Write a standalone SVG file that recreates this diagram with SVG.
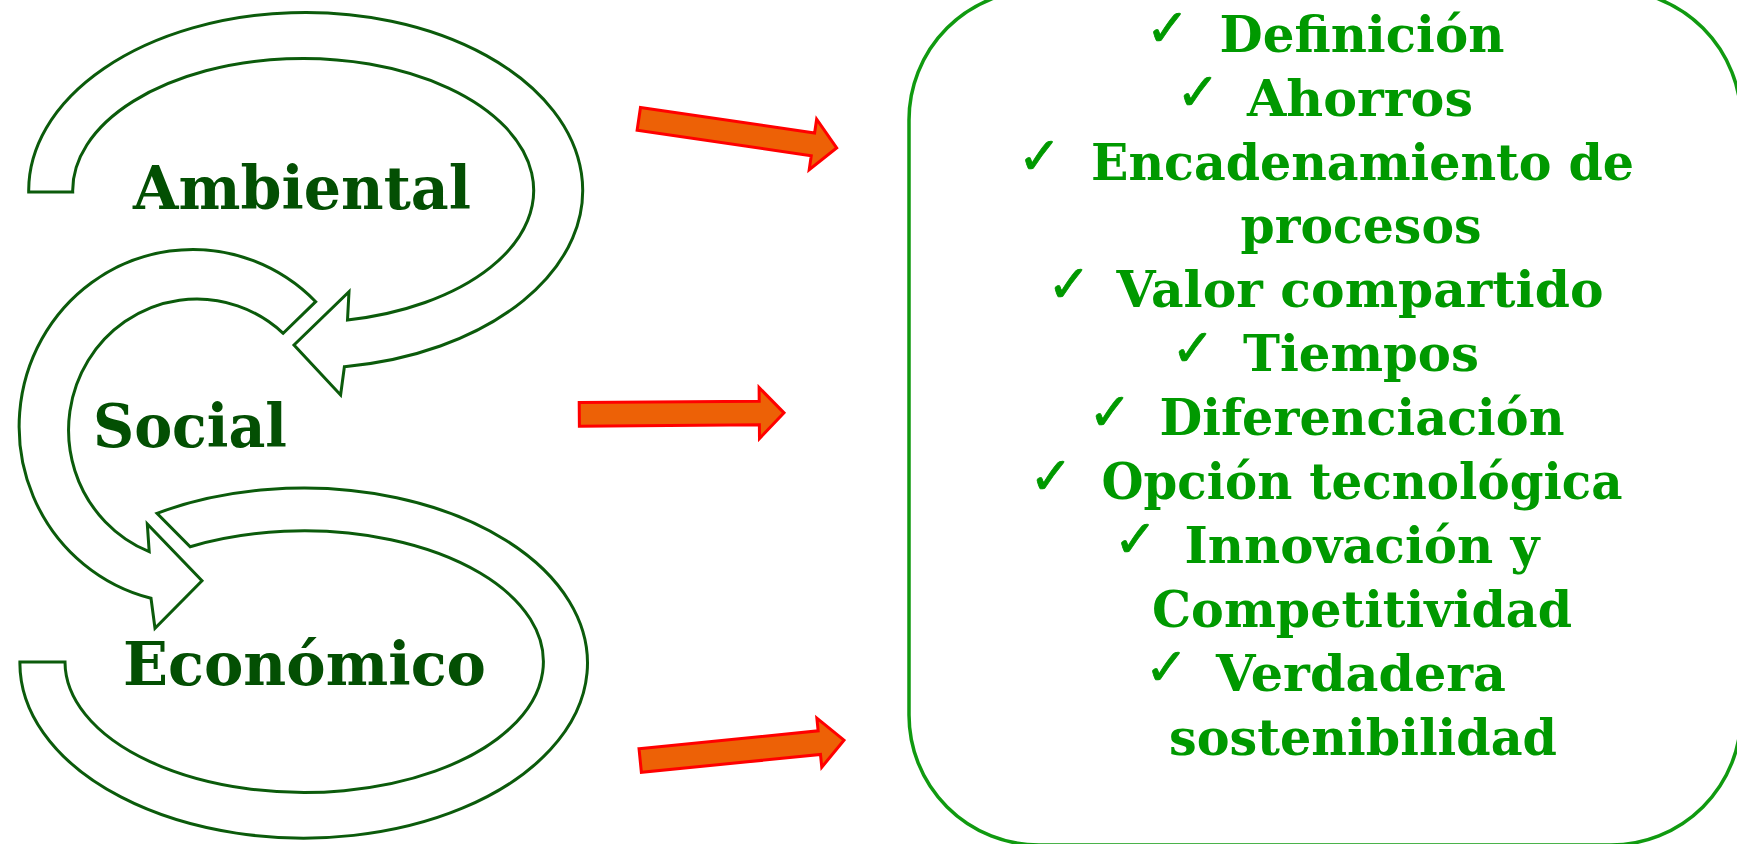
<svg xmlns="http://www.w3.org/2000/svg" width="1737" height="844" viewBox="0 0 1737 844">
<style>
.band{fill:#ffffff;stroke:#0b5b0b;stroke-width:3;stroke-linejoin:miter}
.lbl{font-family:"DejaVu Serif","Liberation Serif",serif;font-weight:bold;font-size:59px;fill:#034f03}
.itm{font-family:"DejaVu Serif","Liberation Serif",serif;font-weight:bold;font-size:50px;fill:#009900;text-anchor:middle}
.chk{font-family:"DejaVu Sans",sans-serif;font-weight:bold;font-size:52px;fill:#009900;stroke:#009900;stroke-width:0.8;text-anchor:middle}
.arr{fill:#ED6106;stroke:#FF0000;stroke-width:3;stroke-linejoin:miter}
</style>
<rect width="1737" height="844" fill="#ffffff"/>
<g id="economico">
<path class="band" d="M19.9,662 A283.8,175 0 1,0 157,513.3 L190.2,546.7 A239.2,130.8 0 1,1 65,662 Z"/>
<text class="lbl" x="123" y="685" textLength="363" lengthAdjust="spacingAndGlyphs">Económico</text>
</g>
<g id="social">
<path class="band" d="M315.7,301.7 A173.5,177 0 1,0 151,598.3 L155,628.3 L202,580.7 L147.3,524 L149.2,551.7 A128.2,131 0 1,1 283.2,333.3 Z"/>
<text class="lbl" x="93" y="447" textLength="194" lengthAdjust="spacingAndGlyphs">Social</text>
</g>
<g id="ambiental">
<path class="band" d="M28.7,192 A277,178 0 1,1 344.4,366.7 L340.6,395 L294,345 L349,291.7 L347.5,320 A230.5,132 0 1,0 72.7,192 Z"/>
<text class="lbl" x="133" y="209" textLength="338" lengthAdjust="spacingAndGlyphs">Ambiental</text>
</g>
<g id="connectors">
<polygon class="arr" transform="translate(638.8,118.8) rotate(8.37)" points="0,-11.5 176,-11.5 176,-25.5 200,0 176,25.5 176,11.5 0,11.5"/>
<polygon class="arr" transform="translate(579.3,414.4) rotate(-0.43)" points="0,-11.8 180,-11.8 180,-25.5 204.7,0 180,25.5 180,11.8 0,11.8"/>
<polygon class="arr" transform="translate(640.2,760.5) rotate(-5.69)" points="0,-11.9 180,-11.9 180,-24.7 204.8,0 180,24.7 180,11.9 0,11.9"/>
</g>
<g id="factores">
<rect x="909" y="-10" width="832" height="855" rx="130" ry="130" fill="none" stroke="#109a10" stroke-width="3.5"/>
<text class="chk" x="1167.5" y="46">✓</text>
<text class="itm" x="1362" y="51.7" textLength="285" lengthAdjust="spacingAndGlyphs">Definición</text>
<text class="chk" x="1198" y="110">✓</text>
<text class="itm" x="1360" y="115.6" textLength="226" lengthAdjust="spacingAndGlyphs">Ahorros</text>
<text class="chk" x="1039.5" y="174">✓</text>
<text class="itm" x="1362.5" y="179.5" textLength="543" lengthAdjust="spacingAndGlyphs">Encadenamiento de</text>
<text class="itm" x="1361" y="243.4" textLength="241" lengthAdjust="spacingAndGlyphs">procesos</text>
<text class="chk" x="1069" y="301.5">✓</text>
<text class="itm" x="1360" y="307.3" textLength="487" lengthAdjust="spacingAndGlyphs">Valor compartido</text>
<text class="chk" x="1193" y="365.5">✓</text>
<text class="itm" x="1361" y="371.2" textLength="236" lengthAdjust="spacingAndGlyphs">Tiempos</text>
<text class="chk" x="1110" y="429.5">✓</text>
<text class="itm" x="1362" y="435.1" textLength="405" lengthAdjust="spacingAndGlyphs">Diferenciación</text>
<text class="chk" x="1051" y="493.5">✓</text>
<text class="itm" x="1362" y="499" textLength="521" lengthAdjust="spacingAndGlyphs">Opción tecnológica</text>
<text class="chk" x="1135.5" y="557">✓</text>
<text class="itm" x="1362" y="562.9" textLength="355" lengthAdjust="spacingAndGlyphs">Innovación y</text>
<text class="itm" x="1362" y="626.8" textLength="420" lengthAdjust="spacingAndGlyphs">Competitividad</text>
<text class="chk" x="1166.5" y="685">✓</text>
<text class="itm" x="1361" y="690.7" textLength="290" lengthAdjust="spacingAndGlyphs">Verdadera</text>
<text class="itm" x="1363" y="754.6" textLength="388" lengthAdjust="spacingAndGlyphs">sostenibilidad</text>
</g>
</svg>
